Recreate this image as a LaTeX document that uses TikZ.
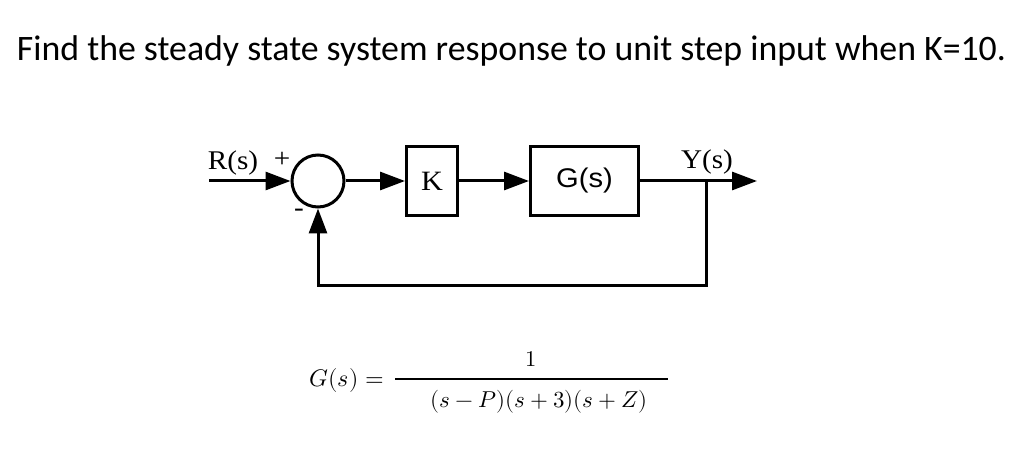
\documentclass[tikz,border=0pt]{standalone}
\usepackage{fontspec}
\usepackage{unicode-math}
\setmathfont{Latin Modern Math}
\usetikzlibrary{arrows.meta}
\newfontfamily\titlefont{Carlito}
\newfontfamily\seriffont[FakeStretch=1.08]{Liberation Serif}
\newfontfamily\sansfont[FakeStretch=1.08]{Liberation Sans}
\begin{document}
\begin{tikzpicture}[x=1pt,y=-1pt,
  wire/.style={line width=3pt},
  arr/.style={wire,-{Triangle[length=25pt,width=18pt]}},
  blk/.style={draw,line width=3pt,minimum height=69pt,inner sep=0pt},
  lbl/.style={inner sep=0pt,font=\seriffont\fontsize{27}{30}\selectfont}
]
\useasboundingbox (0,0) rectangle (1024,454);
\node[inner sep=0pt,font=\titlefont\fontsize{35.8}{42}\selectfont] (title) at (511.5,51) {Find the steady state system response to unit step input when K=10.};
% block diagram
\node[circle,draw,line width=3pt,minimum size=52pt,inner sep=0pt] (sum) at (318,181) {};
\node[blk,minimum width=51pt,font=\seriffont\fontsize{28}{30}\selectfont] (K) at (432,181) {K};
\node[blk,minimum width=108pt,font=\sansfont\fontsize{27}{30}\selectfont] (G) at (584.5,181) {G(s)};
\coordinate (in) at (209,181);
\coordinate (br) at (706,181);
\coordinate (out) at (757,181);
\coordinate (fbr) at (706,285);
\coordinate (fbl) at (318,285);
\draw[arr] (in) -- (sum.west);
\draw[arr] (sum.east) -- (K.west);
\draw[arr] (K.east) -- (G.west);
\draw[arr] (G.east) -- (out);
\draw[arr,line join=miter] (br) -- (fbr) -- (fbl) -- (sum.south);
\node[lbl] (R) at (233,163) {R(s)};
\node[lbl,font=\seriffont\fontsize{27}{28}\selectfont] (plus) at (282,160) {+};
\node[lbl,font=\seriffont\fontsize{27}{28}\selectfont] (minus) at (299,213) {-};
\node[lbl] (Y) at (707,162) {Y(s)};
% equation
\node[inner sep=0pt,anchor=east,font=\fontsize{24}{28}\selectfont] (lhs) at (384,380) {$G(s) =$};
\coordinate (barl) at (395,379);
\coordinate (barr) at (668,379);
\draw[line width=1.2pt] (barl) -- (barr);
\node[inner sep=0pt,font=\fontsize{22.5}{28}\selectfont] (num) at (531,359) {$1$};
\node[inner sep=0pt,font=\fontsize{23}{28}\selectfont] (den) at (539,402) {$(s-P)(s+3)(s+Z)$};
\end{tikzpicture}
\end{document}
